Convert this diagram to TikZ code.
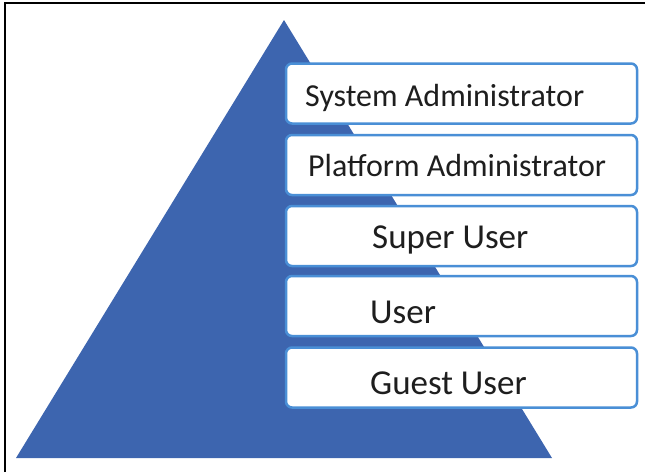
\documentclass[tikz,border=0pt]{standalone}
\usepackage{fontspec}
\setmainfont{Carlito}
\definecolor{pyramidblue}{HTML}{3D65AF}
\definecolor{tierborder}{HTML}{4A8FD6}
\definecolor{tiertext}{HTML}{1E1E1E}
\tikzset{
  tierbox/.style={draw=tierborder, line width=2.5pt, fill=white, rounded corners=6pt,
    minimum width=351pt, minimum height=60pt, inner sep=0pt},
  tierlabel/.style={anchor=base west, inner sep=0pt, text=tiertext, font=\fontsize{32}{38}\selectfont},
  tierlabelbig/.style={tierlabel, font=\fontsize{35}{42}\selectfont},
}
\begin{document}
\begin{tikzpicture}[x=1pt,y=-1pt]
\useasboundingbox (0,0) rectangle (645,472);
% outer frame (top and left edges)
\draw[line width=1.8pt] (5,472) -- (5,3) -- (645,3);
% pyramid
\fill[pyramidblue] (284,20) -- (552,458) -- (16,458) -- cycle;
% tiers
\node[tierbox] (sysadmin)  at (461.5,93.5)  {};
\node[tierbox] (platadmin) at (461.5,165)   {};
\node[tierbox] (superuser) at (461.5,236)   {};
\node[tierbox] (user)      at (461.5,306)   {};
\node[tierbox] (guest)     at (461.5,377.5) {};
% tier labels
\node[tierlabel] (t1) at (305,106) {System Administrator};
\node[tierlabel] (t2) at (308,176) {Platform Administrator};
\node[tierlabelbig] (t3) at (372,248) {Super User};
\node[tierlabelbig] (t4) at (370,323) {User};
\node[tierlabelbig] (t5) at (370,394) {Guest User};
\end{tikzpicture}
\end{document}
